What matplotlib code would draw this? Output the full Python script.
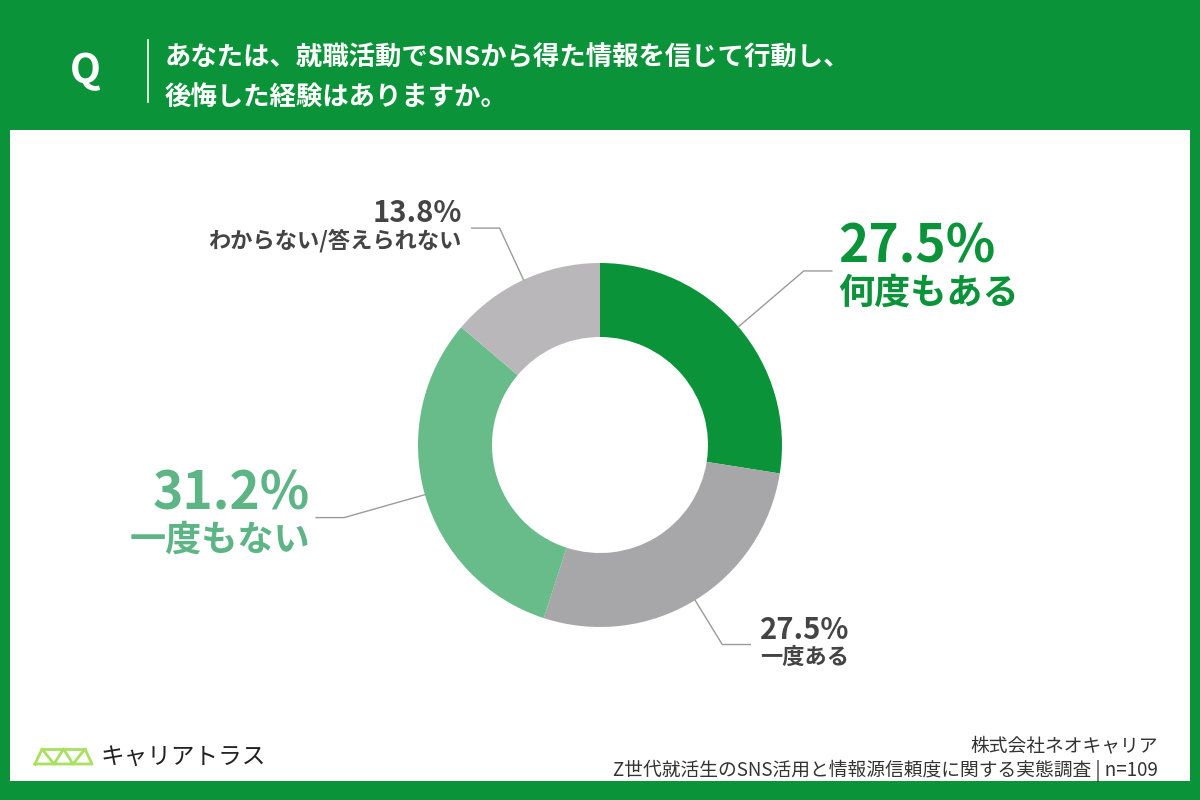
import numpy as np
import matplotlib
matplotlib.use("Agg")
from matplotlib import pyplot as plt
from matplotlib.patches import Rectangle

plt.rcParams['font.family'] = ['Noto Sans CJK JP', 'DejaVu Sans']

# data
labels = ["何度もある", "一度ある", "一度もない", "わからない/答えられない"]
values = [27.5, 27.5, 31.2, 13.8]
colors = ["#0b9339", "#a7a6a8", "#67bc8a", "#bab7bb"]
text_colors = ["#0b9339", "#444444", "#5db585", "#444444"]
big = [True, False, True, False]
title_lines = ["あなたは、就職活動でSNSから得た情報を信じて行動し、", "後悔した経験はありますか。"]
source_lines = ["株式会社ネオキャリア", "Z世代就活生のSNS活用と情報源信頼度に関する実態調査 | n=109"]
brand = "キャリアトラス"

GREEN = "#0b9339"
W, H = 1200, 800

fig = plt.figure(figsize=(12, 8), dpi=100)
fig.patch.set_facecolor(GREEN)
ax = fig.add_axes([0, 0, 1, 1])
ax.set_xlim(0, W)
ax.set_ylim(H, 0)
ax.axis("off")

# white panel
ax.add_patch(Rectangle((10, 130), 1180, 651, facecolor="white", edgecolor="none", zorder=0))

# header
ax.text(85, 72, "Q", color="white", fontsize=29, fontweight="bold", ha="center", va="center")
ax.plot([148, 148], [40, 102], color="white", lw=1.2)
ax.text(165, 58, title_lines[0], color="white", fontsize=19, fontweight="bold", va="center", ha="left")
ax.text(165, 97, title_lines[1], color="white", fontsize=19, fontweight="bold", va="center", ha="left")

# donut (y up, same pixel geometry)
dax = fig.add_axes([0, 0, 1, 1])
dax.patch.set_alpha(0)
cx, cy, R = 600, H - 445, 182
wedges, _ = dax.pie(values, colors=colors, startangle=90, counterclock=False,
                    center=(cx, cy), radius=R, wedgeprops=dict(width=74, linewidth=0))
dax.set_xlim(0, W)
dax.set_ylim(0, H)
dax.set_aspect("equal")
dax.axis("off")

elbow_r = [268, 234, 266, 239]
for i, w in enumerate(wedges):
    ang = np.deg2rad((w.theta1 + w.theta2) / 2)
    x0, y0 = cx + R * np.cos(ang), cy + R * np.sin(ang)
    x1, y1 = cx + elbow_r[i] * np.cos(ang), cy + elbow_r[i] * np.sin(ang)
    side = 1 if np.cos(ang) > 0 else -1
    x2 = x1 + side * 28
    dax.plot([x0, x1, x2], [y0, y1, y1], color="#9a9a9a", lw=1)
    ha = "left" if side > 0 else "right"
    tx = x2 + side * (6 if big[i] else 10)
    if big[i]:
        pfs, lfs, up, down = 37, 26, 8, 4
    else:
        pfs, lfs, up, down = 21, 16, 6, 1
    dax.text(tx, y1 + up, f"{values[i]}%", color=text_colors[i], fontsize=pfs,
             fontweight="bold", ha=ha, va="baseline")
    dax.text(tx, y1 - down, labels[i], color=text_colors[i], fontsize=lfs,
             fontweight="bold", ha=ha, va="top")

# footer: source
ax.text(1158, 746, source_lines[0], color="#333333", fontsize=13.5, ha="right", va="center")
ax.text(1158, 771, source_lines[1], color="#333333", fontsize=13.5, ha="right", va="center")

# logo
tx_ = [35, 42, 54, 63.5, 73, 85, 92, 35]
ty_ = [764, 749, 764, 749, 764, 749, 764, 764]
ax.plot(tx_, ty_, color="#a8e05f", lw=2)
ax.plot([42, 85], [749, 749], color="#a8e05f", lw=2)
ax.text(100, 757, brand, color="#222222", fontsize=17, ha="left", va="center")

fig.savefig("out.png", dpi=100, facecolor=fig.get_facecolor())
